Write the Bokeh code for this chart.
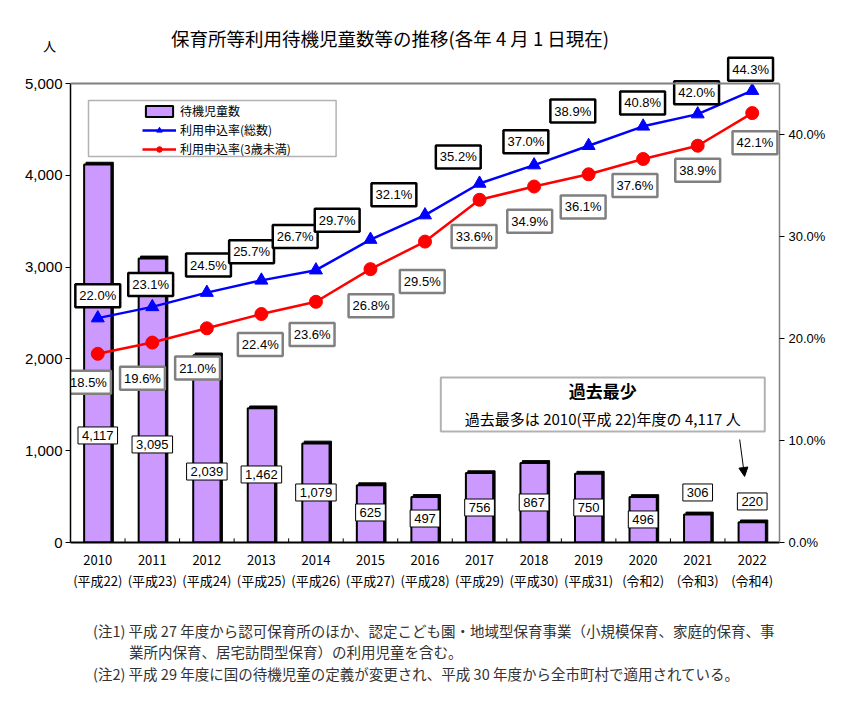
from bokeh.plotting import figure
from bokeh.layouts import column
from bokeh.models import (ColumnDataSource, LinearAxis, Range1d, FixedTicker, Span, Div,
                          BoxAnnotation, Arrow, NormalHead, Legend, LegendItem, NumeralTickFormatter, Label)
from bokeh.core.properties import value
from bokeh.embed import file_html
from bokeh.resources import INLINE

# ---------------- data ----------------
years = ["2010", "2011", "2012", "2013", "2014", "2015", "2016", "2017", "2018", "2019", "2020", "2021", "2022"]
eras = ["(平成22)", "(平成23)", "(平成24)", "(平成25)", "(平成26)", "(平成27)", "(平成28)", "(平成29)",
        "(平成30)", "(平成31)", "(令和2)", "(令和3)", "(令和4)"]
waiting = [4117, 3095, 2039, 1462, 1079, 625, 497, 756, 867, 750, 496, 306, 220]
rate_total = [22.0, 23.1, 24.5, 25.7, 26.7, 29.7, 32.1, 35.2, 37.0, 38.9, 40.8, 42.0, 44.3]
rate_under3 = [18.5, 19.6, 21.0, 22.4, 23.6, 26.8, 29.5, 33.6, 34.9, 36.1, 37.6, 38.9, 42.1]
left_ticks = [0, 1000, 2000, 3000, 4000, 5000]
right_ticks = [0, 10, 20, 30, 40]

# label placement (layout only)
waiting_lbl_y = [1166, 1068, 773, 741, 545, 327, 261, 381, 436, 381, 251, 545, 447]
total_lbl_x = [0.0, 0.97, 2.03, 2.82, 3.62, 4.39, 5.43, 6.61, 7.85, 8.71, 9.99, 10.98, 11.97]
total_lbl_y = [24.2, 25.3, 27.2, 28.5, 30.0, 31.6, 34.1, 37.8, 39.3, 42.3, 43.1, 44.1, 46.4]
under3_lbl_x = [-0.17, 0.82, 1.83, 2.98, 3.93, 5.01, 5.95, 6.90, 7.92, 8.90, 9.85, 11.0, 12.05]
under3_lbl_y = [15.7, 16.1, 17.1, 19.4, 20.4, 23.2, 25.6, 30.0, 31.5, 32.9, 35.0, 36.5, 39.2]

FONT = "Noto Sans CJK JP"
NUMFONT = "Liberation Sans"
BAR = "#CC99FF"

idx = list(range(len(years)))
src = ColumnDataSource(dict(
    x=idx, xs=[i + 0.035 for i in idx], waiting=waiting, wtop=[w + 25 for w in waiting],
    wlbl=[f"{w:,}" for w in waiting], wly=waiting_lbl_y,
    tot=rate_total, und=rate_under3,
    tlbl=[f"{v:.1f}%" for v in rate_total], ulbl=[f"{v:.1f}%" for v in rate_under3],
    tx=total_lbl_x, ty=total_lbl_y, ux=under3_lbl_x, uy=under3_lbl_y,
))

YMAX = 5000 + 29 * 5000 / 459      # a little headroom above the 5,000 line for the top label
PMAX = 45 * YMAX / 5000

p = figure(width=858, height=543, output_backend="svg", toolbar_location=None,
           x_range=Range1d(-0.5, 12.5), y_range=Range1d(0, YMAX),
           min_border_left=70, min_border_right=79, min_border_top=0, min_border_bottom=55)
p.extra_y_ranges = {"pct": Range1d(0, PMAX)}
p.xgrid.visible = False
p.ygrid.visible = False
p.outline_line_color = None
p.background_fill_color = "white"
p.border_fill_color = "white"

# top frame line
p.add_layout(Span(location=5000, dimension="width", line_color="#808080", line_width=2))

# left axis
p.yaxis.ticker = FixedTicker(ticks=left_ticks)
p.yaxis.bounds = (0, 5000)
p.yaxis.formatter = NumeralTickFormatter(format="0,0")
p.yaxis.major_label_text_font = NUMFONT
p.yaxis.major_label_text_font_size = "15px"
p.yaxis.major_label_text_color = "black"
p.yaxis.major_tick_out = 5
p.yaxis.major_tick_in = 0
p.yaxis.minor_tick_out = 0
p.yaxis.minor_tick_in = 0
p.yaxis.axis_line_width = 1.5
p.yaxis.major_label_standoff = 3

# bottom axis: two-line category labels
p.xaxis.ticker = FixedTicker(ticks=idx)
p.xaxis.major_label_overrides = {i: f"{years[i]}\n{eras[i]}" for i in idx}
p.xaxis.major_label_text_font = FONT
p.xaxis.major_label_text_font_size = "13px"
p.xaxis.major_label_text_color = "black"
p.xaxis.major_label_text_line_height = 1.15
p.xaxis.major_tick_in = 0
p.xaxis.major_tick_out = 0
p.xaxis.minor_tick_in = 0
p.xaxis.minor_tick_out = 0
p.xaxis.axis_line_width = 2
p.xaxis.major_label_standoff = 7

# right axis
ry = LinearAxis(y_range_name="pct", ticker=FixedTicker(ticks=right_ticks), bounds=(0, 45),
                major_label_overrides={t: f"{t:.1f}%" for t in right_ticks})
ry.major_label_text_font = NUMFONT
ry.major_label_text_font_size = "13px"
ry.major_label_text_color = "black"
ry.major_tick_out = 5
ry.major_tick_in = 0
ry.minor_tick_out = 0
ry.minor_tick_in = 0
ry.axis_line_color = "#808080"
ry.axis_line_width = 1.5
ry.major_label_standoff = 4
p.add_layout(ry, "right")

# small inner ticks between categories
bnd = [i + 0.5 for i in idx[:-1]]
p.segment(x0=bnd, y0=[0] * len(bnd), x1=bnd, y1=[45] * len(bnd), line_color="black", line_width=1)

# bars (with shadow)
p.vbar(x="xs", top="wtop", width=0.5, bottom=0, source=src, fill_color="black", line_color="black")
r_bar = p.vbar(x="x", top="waiting", width=0.5, bottom=0, source=src, fill_color=BAR,
               line_color="black", line_width=2)

# lines
r_bl = p.line("x", "tot", source=src, y_range_name="pct", line_color="#0000FF", line_width=2.5)
r_bm = p.scatter("x", "tot", source=src, y_range_name="pct", marker="triangle", size=13,
                 fill_color="#0000FF", line_color="#0000FF")
r_rl = p.line("x", "und", source=src, y_range_name="pct", line_color="#FF0000", line_width=2.5)
r_rm = p.scatter("x", "und", source=src, y_range_name="pct", marker="circle", size=13,
                 fill_color="#FF0000", line_color="#FF0000")

# value labels (boxed text glyphs)
p.text(x="x", y="wly", text="wlbl", source=src, text_align="center", text_baseline="middle",
       text_font=value(NUMFONT), text_font_size="13px", text_color="black",
       background_fill_color="white", border_line_color="black", border_line_width=1, padding=4)
p.text(x="tx", y="ty", text="tlbl", source=src, y_range_name="pct",
       text_align="center", text_baseline="middle",
       text_font=value(NUMFONT), text_font_size="13px", text_color="black",
       background_fill_color="white", border_line_color="black", border_line_width=2.5, padding=4)
p.text(x="ux", y="uy", text="ulbl", source=src, y_range_name="pct",
       text_align="center", text_baseline="middle",
       text_font=value(NUMFONT), text_font_size="13px", text_color="black",
       background_fill_color="white", border_line_color="#808080", border_line_width=2.5, padding=4)

# legend frame + legend
p.add_layout(BoxAnnotation(left=-0.17, right=4.37, top=4815, bottom=4205, fill_color="white", fill_alpha=1,
                           line_color="black", line_width=1.5, level="underlay"))
legend = Legend(items=[LegendItem(label="待機児童数", renderers=[r_bar]),
                       LegendItem(label="利用申込率(総数)", renderers=[r_bl, r_bm]),
                       LegendItem(label="利用申込率(3歳未満)", renderers=[r_rl, r_rm])],
                location=(72, 385), border_line_color=None, background_fill_alpha=0,
                label_text_font=FONT, label_text_font_size="12px", label_text_color="black",
                glyph_width=34, glyph_height=14, label_height=16, spacing=2, padding=2, margin=0,
                label_standoff=4)
p.add_layout(legend)

# annotation box
p.add_layout(BoxAnnotation(left=6.29, right=12.23, top=1797, bottom=1209, fill_color="white", fill_alpha=1,
                           line_color="black", line_width=2))
p.add_layout(Label(x=9.26, y=1656, text="過去最少", text_align="center", text_baseline="middle",
                   text_font=FONT, text_font_size="17px", text_font_style="bold", text_color="black"))
p.add_layout(Label(x=9.26, y=1351, text="過去最多は 2010(平成 22)年度の 4,117 人", text_align="center",
                   text_baseline="middle", text_font=FONT, text_font_size="15px", text_color="black"))
p.add_layout(Arrow(end=NormalHead(size=9, fill_color="black", line_color="black"),
                   x_start=11.77, y_start=1122, x_end=11.86, y_end=719, line_color="black", line_width=1))

title_div = Div(width=858, height=44, text=(
    '<div style="position:relative;width:858px;height:44px;font-family:\'Noto Sans CJK JP\';color:#000;">'
    '<span style="position:absolute;left:166px;top:24px;font-size:18.5px;line-height:1;white-space:nowrap;">'
    '保育所等利用待機児童数等の推移(各年 4 月 1 日現在)</span>'
    '<span style="position:absolute;left:38px;top:34px;font-size:13px;line-height:1;">人</span>'
    '</div>'))

notes_div = Div(width=858, height=127, text=(
    '<div style="position:relative;width:858px;height:127px;font-family:\'Noto Sans CJK JP\';'
    'color:#333;font-size:14.5px;line-height:1;white-space:nowrap;">'
    '<span style="position:absolute;left:88px;top:22px;">(注1) 平成 27 年度から認可保育所のほか、認定こども園・地域型保育事業（小規模保育、家庭的保育、事</span>'
    '<span style="position:absolute;left:124px;top:43px;">業所内保育、居宅訪問型保育）の利用児童を含む。</span>'
    '<span style="position:absolute;left:88px;top:65px;">(注2) 平成 29 年度に国の待機児童の定義が変更され、平成 30 年度から全市町村で適用されている。</span>'
    '</div>'))

layout = column(title_div, p, notes_div, spacing=0)
open("out.html", "w").write(file_html(layout, INLINE))
